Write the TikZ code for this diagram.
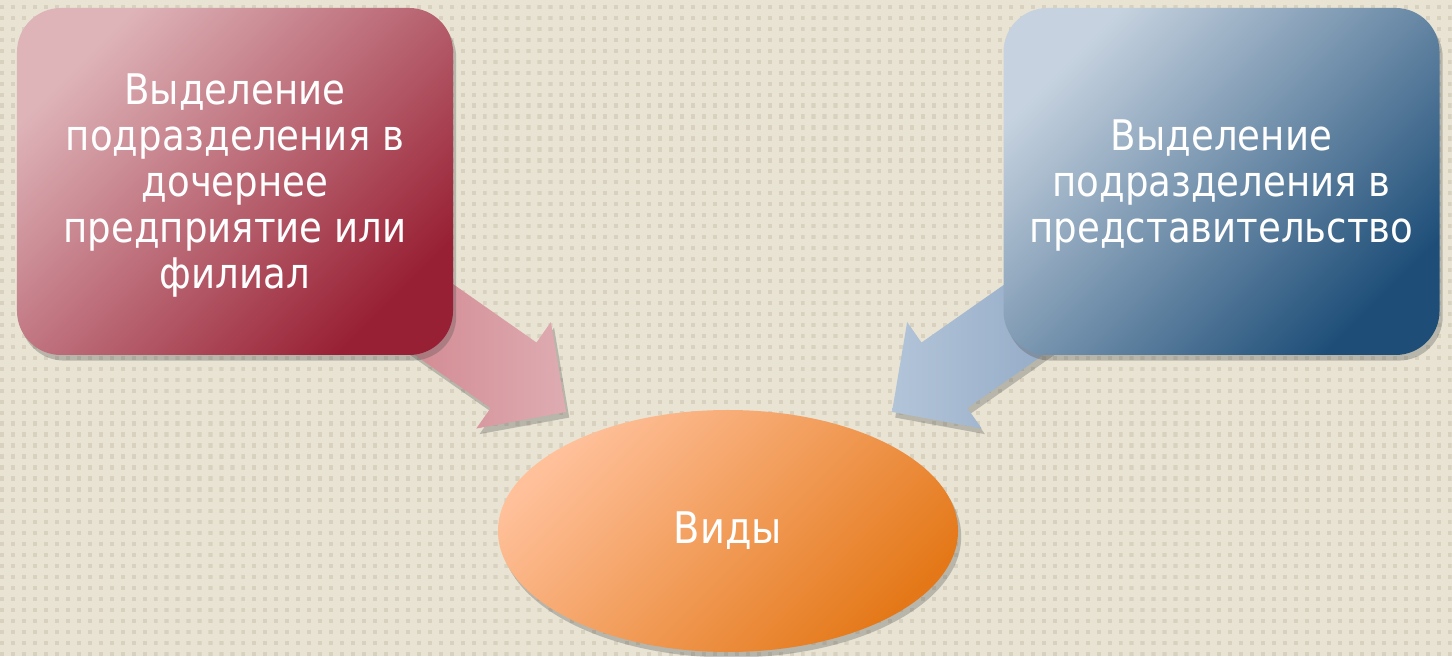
\documentclass[tikz,border=0pt]{standalone}
\usepackage{fontspec}
\setmainfont{DejaVu Sans}[FakeStretch=0.88]
\usetikzlibrary{shapes.geometric,shadows,patterns}
\definecolor{bgcol}{HTML}{E8E3D3}
\definecolor{dotcol}{HTML}{D8D1BF}
\pgfdeclarepatternformonly{bgdots}{\pgfqpoint{0pt}{0pt}}{\pgfqpoint{3pt}{3pt}}{\pgfqpoint{7.8pt}{7.8pt}}{\pgfpathrectangle{\pgfqpoint{0pt}{0pt}}{\pgfqpoint{3pt}{3pt}}\pgfusepath{fill}}
\newcommand{\topstrut}{\rule{0pt}{27.6pt}}
\begin{document}
\begin{tikzpicture}[x=0.25mm,y=0.25mm,
  sh/.style={drop shadow={shadow xshift=0.8mm,shadow yshift=-1.4mm,opacity=0.3,fill=black!70}},
  box/.style={sh,rounded corners=11mm,minimum width=109mm,minimum height=86.75mm,text=white,align=center,font=\fontsize{30}{32.7}\selectfont},
  oval/.style={sh,ellipse,minimum width=115mm,minimum height=60.5mm,text=white,font=\fontsize{31}{33}\selectfont},
  arw/.style={sh}]
\useasboundingbox (0,0) rectangle (1452,656);
\fill[bgcol] (0,0) rectangle (1452,656);
\fill[pattern=bgdots,pattern color=dotcol] (0,0) rectangle (1452,656);
% block arrows
\coordinate (ltip) at (566,244);
\coordinate (rtip) at (892,244);
\begin{scope}[shift={(ltip)},rotate=-35]
\shade[arw,left color={rgb,255:red,204;green,118;blue,128},right color={rgb,255:red,222;green,172;blue,178}]
  (0,0) -- (-64,65) -- (-64,40) -- (-280,40) -- (-280,-40) -- (-64,-40) -- (-64,-65) -- cycle;
\end{scope}
\begin{scope}[shift={(rtip)},rotate=-145]
\shade[arw,left color={rgb,255:red,178;green,196;blue,216},right color={rgb,255:red,132;green,158;blue,190}]
  (0,0) -- (-64,65) -- (-64,40) -- (-280,40) -- (-280,-40) -- (-64,-40) -- (-64,-65) -- cycle;
\end{scope}
% boxes
\node[box,top color={rgb,255:red,222;green,180;blue,185},middle color={rgb,255:red,194;green,88;blue,100},bottom color={rgb,255:red,152;green,32;blue,52},shading angle=45] (filial) at (235,474.5)
  {\topstrut Выделение\\подразделения в\\дочернее\\предприятие или\\филиал};
\node[box,top color={rgb,255:red,198;green,210;blue,223},middle color={rgb,255:red,108;green,138;blue,171},bottom color={rgb,255:red,30;green,78;blue,120},shading angle=45] (predst) at (1221.5,474.5)
  {\topstrut Выделение\\подразделения в\\представительство};
\node[oval,top color={rgb,255:red,255;green,192;blue,154},middle color={rgb,255:red,252;green,150;blue,78},bottom color={rgb,255:red,228;green,120;blue,24},shading angle=45] (vidy) at (728,125) {\raisebox{0.7mm}{Виды}};
\end{tikzpicture}
\end{document}
